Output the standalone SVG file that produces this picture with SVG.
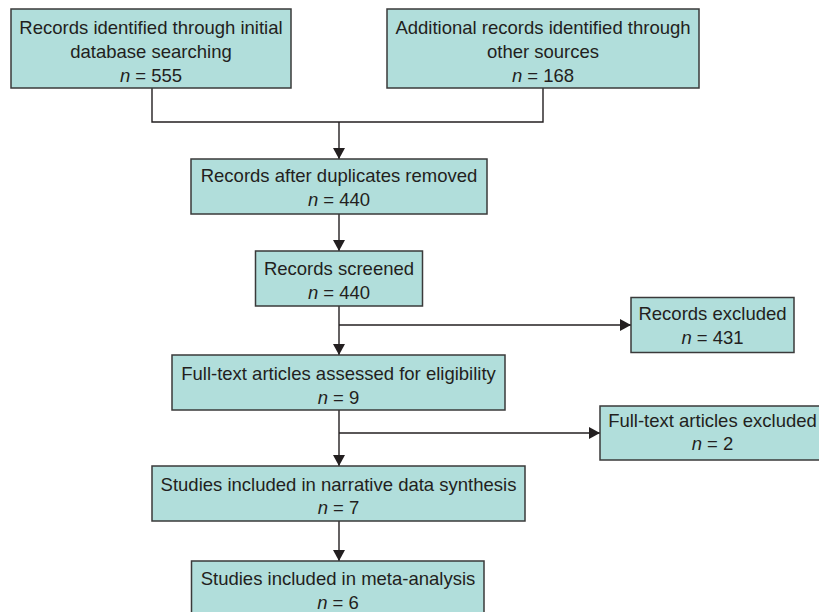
<svg xmlns="http://www.w3.org/2000/svg" width="819" height="612" viewBox="0 0 819 612">
<style>
.box{fill:#b1dedb;stroke:#3a3a3a;stroke-width:1.5}
.t{font-family:"Liberation Sans",Arial,sans-serif;font-size:18.5px;fill:#231f20;text-anchor:middle}
.i{font-style:italic}
.c{fill:none;stroke:#231f20;stroke-width:1.4}
</style>
<defs>
<marker id="ah" viewBox="0 0 11 12" refX="11" refY="6" markerWidth="11" markerHeight="12" markerUnits="userSpaceOnUse" orient="auto">
<path d="M0,0 L11,6 L0,12 z" fill="#231f20"/>
</marker>
</defs>
<rect width="819" height="612" fill="#ffffff"/>
<g id="connectors">
<path class="c" d="M152,88 V122 H543 V88"/>
<path class="c" d="M339,122 V159" marker-end="url(#ah)"/>
<path class="c" d="M339,214 V251" marker-end="url(#ah)"/>
<path class="c" d="M339,306 V355" marker-end="url(#ah)"/>
<path class="c" d="M339,325 H631" marker-end="url(#ah)"/>
<path class="c" d="M339,410 V466" marker-end="url(#ah)"/>
<path class="c" d="M339,433 H600" marker-end="url(#ah)"/>
<path class="c" d="M339,521 V561" marker-end="url(#ah)"/>
</g>
<g id="n1">
<rect class="box" x="11" y="9" width="280" height="79"/>
<text class="t" x="151" y="34">Records identified through initial</text>
<text class="t" x="151" y="58">database searching</text>
<text class="t" x="151" y="82"><tspan class="i">n</tspan> = 555</text>
</g>
<g id="n2">
<rect class="box" x="387" y="9" width="312" height="79"/>
<text class="t" x="543" y="34">Additional records identified through</text>
<text class="t" x="543" y="58">other sources</text>
<text class="t" x="543" y="82"><tspan class="i">n</tspan> = 168</text>
</g>
<g id="n3">
<rect class="box" x="191" y="159" width="296" height="55"/>
<text class="t" x="339" y="182">Records after duplicates removed</text>
<text class="t" x="339" y="206"><tspan class="i">n</tspan> = 440</text>
</g>
<g id="n4">
<rect class="box" x="255.5" y="251" width="167" height="55"/>
<text class="t" x="339" y="275">Records screened</text>
<text class="t" x="339" y="298.5"><tspan class="i">n</tspan> = 440</text>
</g>
<g id="n5">
<rect class="box" x="631" y="297.5" width="163" height="55"/>
<text class="t" x="712.5" y="319.5">Records excluded</text>
<text class="t" x="712.5" y="343.5"><tspan class="i">n</tspan> = 431</text>
</g>
<g id="n6">
<rect class="box" x="172" y="355" width="333" height="55"/>
<text class="t" x="338.5" y="380">Full-text articles assessed for eligibility</text>
<text class="t" x="338.5" y="403.5"><tspan class="i">n</tspan> = 9</text>
</g>
<g id="n7">
<rect class="box" x="600" y="406" width="225" height="54"/>
<text class="t" x="712.5" y="427">Full-text articles excluded</text>
<text class="t" x="712.5" y="450"><tspan class="i">n</tspan> = 2</text>
</g>
<g id="n8">
<rect class="box" x="152" y="466" width="373" height="55"/>
<text class="t" x="338.5" y="491">Studies included in narrative data synthesis</text>
<text class="t" x="338.5" y="514"><tspan class="i">n</tspan> = 7</text>
</g>
<g id="n9">
<rect class="box" x="191.5" y="561" width="292.5" height="60"/>
<text class="t" x="338" y="585">Studies included in meta-analysis</text>
<text class="t" x="338" y="608.5"><tspan class="i">n</tspan> = 6</text>
</g>
</svg>
